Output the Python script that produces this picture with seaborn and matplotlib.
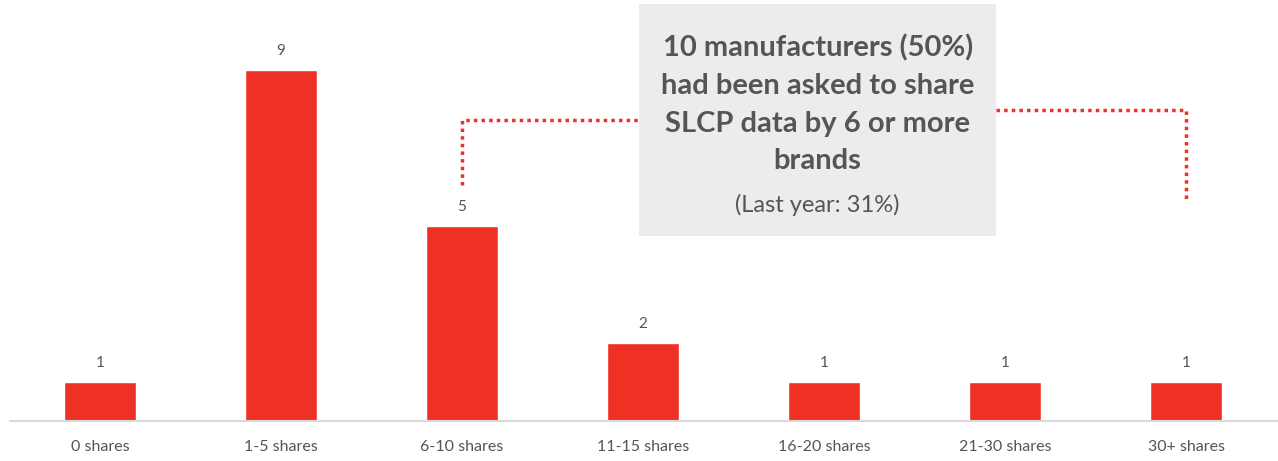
import matplotlib
matplotlib.use("Agg")
import matplotlib.pyplot as plt
import pandas as pd
import seaborn as sns
from matplotlib.patches import Rectangle

# data
categories = ["0 shares", "1-5 shares", "6-10 shares", "11-15 shares",
              "16-20 shares", "21-30 shares", "30+ shares"]
counts = [1, 9, 5, 2, 1, 1, 1]

callout_bold = "10 manufacturers (50%)\nhad been asked to share\nSLCP data by 6 or more\nbrands"
callout_note = "(Last year: 31%)"

RED = "#ee3124"
GREY = "#555555"

df = pd.DataFrame({"bucket": categories, "count": counts})

sns.set_style("white")
plt.rcParams["font.family"] = ["Lato", "DejaVu Sans"]

fig = plt.figure(figsize=(12.78, 4.61), dpi=100)
ax = fig.add_axes([9.5 / 1278, 40 / 461, 1267 / 1278, 421 / 461])

sns.barplot(data=df, x="bucket", y="count", color=RED, width=0.4,
            saturation=1, ax=ax)

for i, v in enumerate(counts):
    ax.text(i, v + 0.3, str(v), ha="center", va="bottom",
            fontsize=11, color=GREY)

ax.set_xlim(-0.5, 6.5)
ax.set_ylim(0, 10.8)
ax.set_xlabel("")
ax.set_ylabel("")
ax.set_yticks([])
ax.tick_params(axis="x", length=0, labelsize=11.5, labelcolor=GREY, pad=14)
for s in ["top", "right", "left"]:
    ax.spines[s].set_visible(False)
ax.spines["bottom"].set_color("#d9d9d9")
ax.spines["bottom"].set_linewidth(1.5)

# dotted leader lines
ax.plot([2, 2, 2.98], [6.05, 7.72, 7.72], color=RED, ls=(0, (1, 1.2)),
        lw=2.5, solid_capstyle="butt", clip_on=False)
ax.plot([4.95, 6.0, 6.0], [7.97, 7.97, 5.67], color=RED, ls=(0, (1, 1.2)),
        lw=2.5, solid_capstyle="butt", clip_on=False)

# callout box
ax.add_patch(Rectangle((2.98, 4.74), 1.97, 5.95, facecolor="#ececec",
                       edgecolor="none", zorder=3, clip_on=False))
ax.text(3.965, 8.12, callout_bold, ha="center", va="center", fontsize=21,
        fontweight="bold", color=GREY, linespacing=1.55, zorder=4)
ax.text(3.965, 5.55, callout_note, ha="center", va="center", fontsize=17,
        color=GREY, zorder=4)

fig.savefig("out.png", dpi=100)
